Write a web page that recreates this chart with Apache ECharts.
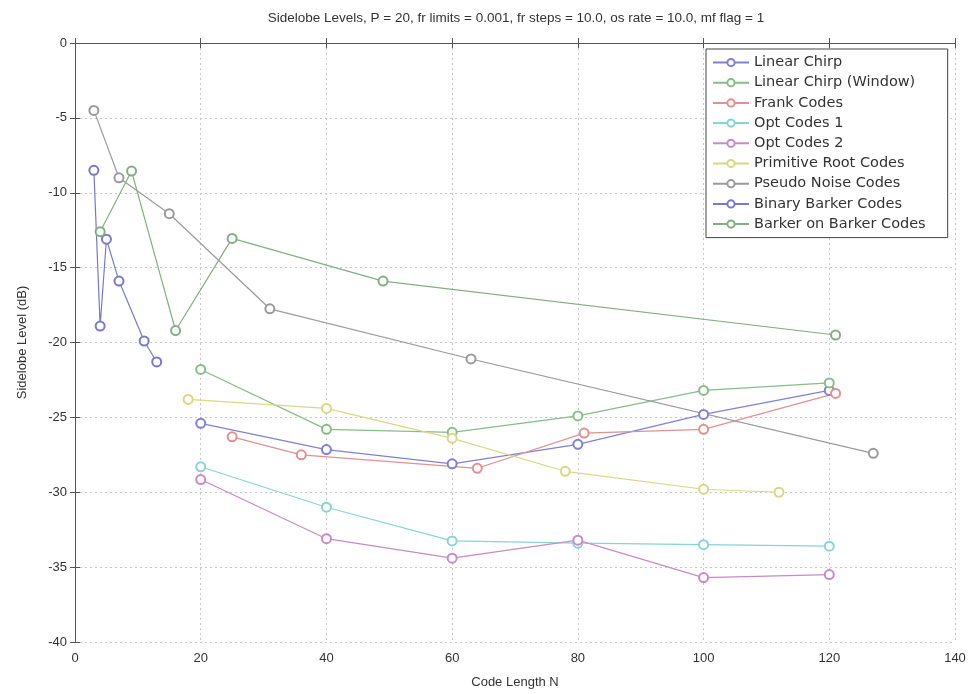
<!DOCTYPE html>
<html>
<head>
<meta charset="utf-8">
<script src="https://cdn.jsdelivr.net/npm/echarts@6/dist/echarts.min.js"></script>
<style>
  html, body { margin: 0; padding: 0; background: #fff; }
  #chart { width: 974px; height: 694px; }
</style>
</head>
<body>
<div id="chart"></div>
<script>
// Peak sidelobe level versus code length for several pulse-compression code families
const seriesNames = [
  'Linear Chirp',
  'Linear Chirp (Window)',
  'Frank Codes',
  'Opt Codes 1',
  'Opt Codes 2',
  'Primitive Root Codes',
  'Pseudo Noise Codes',
  'Binary Barker Codes',
  'Barker on Barker Codes'
];

const linearChirpN = [20, 40, 60, 80, 100, 120];
const linearChirpDb = [-25.4, -27.15, -28.1, -26.8, -24.8, -23.2];

const linearChirpWinN = [20, 40, 60, 80, 100, 120];
const linearChirpWinDb = [-21.8, -25.8, -26.0, -24.9, -23.2, -22.7];

const frankN = [25, 36, 64, 81, 100, 121];
const frankDb = [-26.3, -27.5, -28.4, -26.05, -25.8, -23.4];

const opt1N = [20, 40, 60, 80, 100, 120];
const opt1Db = [-28.3, -31.0, -33.25, -33.4, -33.5, -33.6];

const opt2N = [20, 40, 60, 80, 100, 120];
const opt2Db = [-29.15, -33.1, -34.4, -33.2, -35.7, -35.5];

const primRootN = [18, 40, 60, 78, 100, 112];
const primRootDb = [-23.8, -24.4, -26.4, -28.6, -29.8, -30.0];

const pnN = [3, 7, 15, 31, 63, 127];
const pnDb = [-4.5, -9.0, -11.4, -17.75, -21.1, -27.4];

const barkerN = [3, 4, 5, 7, 11, 13];
const barkerDb = [-8.5, -18.9, -13.1, -15.9, -19.9, -21.3];

const barkerOnBarkerN = [4, 9, 16, 25, 49, 121];
const barkerOnBarkerDb = [-12.6, -8.55, -19.2, -13.05, -15.9, -19.5];

const xTicks = { min: 0, max: 140, step: 20 };
const yTicks = { min: -40, max: 0, step: 5 };

const titleText = 'Sidelobe Levels, P = 20, fr limits = 0.001, fr steps = 10.0, os rate = 10.0, mf flag = 1';

const palette = ['#8080d6', '#86be86', '#e29090', '#86d4d4', '#c88ac8', '#d8d884', '#9a9a9a', '#7878cc', '#80b080'];

const curves = [
  [linearChirpN, linearChirpDb],
  [linearChirpWinN, linearChirpWinDb],
  [frankN, frankDb],
  [opt1N, opt1Db],
  [opt2N, opt2Db],
  [primRootN, primRootDb],
  [pnN, pnDb],
  [barkerN, barkerDb],
  [barkerOnBarkerN, barkerOnBarkerDb]
];

const FONT = '"Liberation Sans", Arial, sans-serif';
const LEGEND_FONT = '"DejaVu Sans", "Liberation Sans", sans-serif';
const chart = echarts.init(document.getElementById('chart'), null, { renderer: 'canvas' });

const axisCommon = {
  axisLine: { show: true, lineStyle: { color: '#555', width: 1 } },
  axisTick: { show: true, inside: true, length: 5, lineStyle: { color: '#555' } }
};

chart.setOption({
  animation: false,
  backgroundColor: '#fff',
  color: palette,
  title: {
    text: titleText,
    left: 511,
    top: 6,
    textAlign: 'center',
    textStyle: { fontFamily: FONT, fontSize: 13.5, fontWeight: 'normal', color: '#333' }
  },
  grid: { left: 75, top: 43, width: 880, height: 602, containLabel: false },
  legend: {
    orient: 'vertical',
    left: 706,
    top: 49,
    padding: [6, 22, 6, 6],
    itemWidth: 36,
    itemHeight: 9,
    itemGap: 5.2,
    backgroundColor: '#fff',
    borderColor: '#444',
    borderWidth: 1,
    borderRadius: 0,
    data: seriesNames,
    textStyle: { fontFamily: LEGEND_FONT, fontSize: 14.5, color: '#333', padding: [0, 0, 0, 0] }
  },
  xAxis: [
    Object.assign({}, axisCommon, {
      type: 'value', position: 'bottom',
      min: xTicks.min, max: xTicks.max, interval: xTicks.step,
      name: 'Code Length N', nameLocation: 'middle', nameGap: 34,
      nameTextStyle: { fontFamily: FONT, fontSize: 13, color: '#333' },
      axisLabel: { fontFamily: FONT, fontSize: 13, color: '#333', margin: 10 },
      splitLine: { show: true, lineStyle: { color: '#c8c8c8', type: [2, 3], width: 1 } }
    }),
    Object.assign({}, axisCommon, {
      type: 'value', position: 'top',
      min: xTicks.min, max: xTicks.max, interval: xTicks.step,
      axisLabel: { show: false }, splitLine: { show: false }
    })
  ],
  yAxis: [
    Object.assign({}, axisCommon, {
      type: 'value', position: 'left',
      min: yTicks.min, max: yTicks.max, interval: yTicks.step,
      name: 'Sidelobe Level (dB)', nameLocation: 'middle', nameGap: 46, nameRotate: 90,
      nameTextStyle: { fontFamily: FONT, fontSize: 13, color: '#333' },
      axisLabel: { fontFamily: FONT, fontSize: 13, color: '#333', margin: 8 },
      splitLine: { show: true, lineStyle: { color: '#c8c8c8', type: [2, 3], width: 1 } }
    }),
    Object.assign({}, axisCommon, {
      type: 'value', position: 'right',
      min: yTicks.min, max: yTicks.max, interval: yTicks.step,
      axisLabel: { show: false }, splitLine: { show: false }
    })
  ],
  series: curves.map(function (c, i) {
    return {
      name: seriesNames[i],
      type: 'line',
      xAxisIndex: 0,
      yAxisIndex: 0,
      data: c[0].map(function (n, k) { return [n, c[1][k]]; }),
      symbol: 'emptyCircle',
      symbolSize: 9,
      showAllSymbol: true,
      lineStyle: { width: 1.2, color: palette[i] },
      itemStyle: { color: palette[i], borderWidth: 1.2 },
      emphasis: { disabled: true }
    };
  })
});
</script>
</body>
</html>
